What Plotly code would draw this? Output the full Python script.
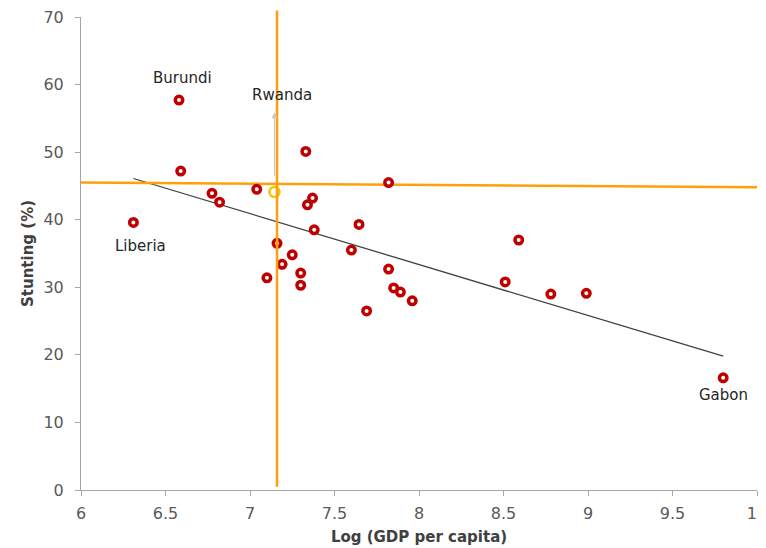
import plotly.graph_objects as go

# Data
log_gdp = [6.58, 6.31, 6.59, 6.775, 6.82, 7.04, 7.33, 7.82, 7.37, 7.34, 7.38, 7.645,
           7.16, 7.60, 7.25, 7.19, 7.10, 7.30, 7.30, 7.69, 7.82, 7.85, 7.89, 7.96,
           8.59, 8.51, 8.78, 8.99, 9.80]
stunting = [57.7, 39.6, 47.2, 43.9, 42.6, 44.5, 50.1, 45.5, 43.2, 42.2, 38.5, 39.3,
            36.5, 35.5, 34.8, 33.4, 31.4, 32.1, 30.3, 26.5, 32.7, 29.9, 29.3, 28.0,
            37.0, 30.8, 29.0, 29.1, 16.6]

rwanda_x = [7.145]
rwanda_y = [44.1]

trend_x = [6.31, 9.80]
trend_y = [46.1, 19.8]

avg_stunting_line = [45.5, 44.8]   # at x = 6 and x = 10
avg_gdp_line_x = 7.16

labels = ["Burundi", "Rwanda", "Liberia", "Gabon"]
label_x = [6.60, 7.19, 6.35, 9.80]
label_y = [60.9, 58.4, 36.1, 14.0]

x_ticks = [6, 6.5, 7, 7.5, 8, 8.5, 9, 9.5, 10]
x_tick_text = ["6", "6.5", "7", "7.5", "8", "8.5", "9", "9.5", "10"]
y_ticks = [0, 10, 20, 30, 40, 50, 60, 70]

FONT = "DejaVu Sans"
ORANGE = "#FFA00A"

fig = go.Figure()

fig.add_trace(go.Scatter(x=trend_x, y=trend_y, mode="lines",
                         line=dict(color="#404040", width=1.3),
                         hoverinfo="skip", showlegend=False))

fig.add_trace(go.Scatter(x=[6, 10], y=avg_stunting_line, mode="lines",
                         line=dict(color=ORANGE, width=2.5),
                         hoverinfo="skip", showlegend=False))

fig.add_trace(go.Scatter(x=log_gdp, y=stunting, mode="markers",
                         marker=dict(symbol="circle", size=7.5, color="white",
                                     line=dict(color="#C00000", width=3.5)),
                         showlegend=False))

fig.add_trace(go.Scatter(x=rwanda_x, y=rwanda_y, mode="markers",
                         marker=dict(symbol="circle", size=10, color="white",
                                     line=dict(color="#FFC000", width=2.5)),
                         showlegend=False))

fig.add_shape(type="line", xref="x", yref="paper", x0=avg_gdp_line_x, x1=avg_gdp_line_x,
              y0=0.007, y1=1.014, line=dict(color=ORANGE, width=2.5))

# arrow for Rwanda
fig.add_annotation(x=7.145, y=55.9, ax=7.145, ay=46.3, xref="x", yref="y",
                   axref="x", ayref="y", text="", showarrow=True,
                   arrowhead=2, arrowsize=1, arrowwidth=1.2, arrowcolor="#C8C8C8")

for t, lx, ly in zip(labels, label_x, label_y):
    fig.add_annotation(x=lx, y=ly, text=t, showarrow=False, xref="x", yref="y",
                       font=dict(family=FONT, size=15, color="#262626"))

fig.update_layout(
    width=766, height=548,
    margin=dict(l=73, r=17, t=9, b=66),
    paper_bgcolor="white", plot_bgcolor="white",
    font=dict(family=FONT, color="#595959"),
)
fig.update_xaxes(range=[6, 10], tickvals=x_ticks, ticktext=x_tick_text, automargin=False,
                 showgrid=False, zeroline=False, showline=True, linecolor="#A6A6A6",
                 linewidth=1, ticks="outside", ticklen=5, tickcolor="#A6A6A6",
                 ticklabelstandoff=4, ticklabeloverflow="allow",
                 tickfont=dict(family=FONT, size=16, color="#595959"),
                 title=dict(text="<b>Log (GDP per capita)</b>", standoff=9,
                            font=dict(family=FONT, size=15, color="#404040")))
fig.update_yaxes(range=[0, 70], tickvals=y_ticks, automargin=False,
                 showgrid=False, zeroline=False, showline=True, linecolor="#A6A6A6",
                 linewidth=1, ticks="outside", ticklen=5, tickcolor="#A6A6A6",
                 ticklabelstandoff=8, ticklabeloverflow="allow",
                 tickfont=dict(family=FONT, size=16, color="#595959"),
                 title=dict(text="<b>Stunting (%)</b>", standoff=6,
                            font=dict(family=FONT, size=15, color="#404040")))

fig.write_html("out.html")
